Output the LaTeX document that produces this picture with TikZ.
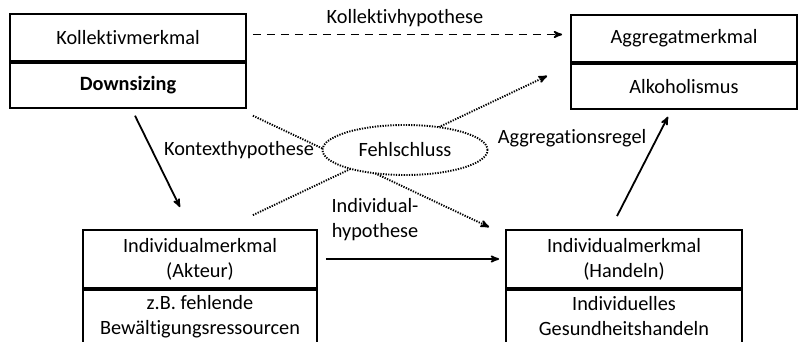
\documentclass[tikz,border=0pt]{standalone}
\usepackage{fontspec}
\setmainfont[Ligatures=NoCommon]{Carlito}
\usetikzlibrary{arrows}
\usetikzlibrary{shapes.geometric}
\usetikzlibrary{positioning}

\begin{document}
\begin{tikzpicture}[x=1pt,y=-1pt,>=stealth',line width=1.8pt,font=\fontsize{20.3}{25}\selectfont]
	\tikzstyle{feld}=[draw, line width=1.8pt, align=center, inner sep=0pt]
	\tikzstyle{punkte}=[line width=1.9pt, dash pattern=on 1.3pt off 1.3pt]
	\tikzstyle{strich}=[dash pattern=on 8pt off 6pt]
	\useasboundingbox (0,0) rectangle (798,342);

	% Kollektivebene
	\node[feld, minimum width=236, minimum height=47] (A1) at (128,37.5) {Kollektivmerkmal};
	\node[feld, minimum width=236, minimum height=45] (A2) [below=0pt of A1] {\bfseries Downsizing};
	\node[feld, minimum width=226, minimum height=47] (B1) at (684,38.5) {Aggregatmerkmal};
	\node[feld, minimum width=226, minimum height=45] (B2) [below=0pt of B1] {Alkoholismus};

	% Individualebene
	\node[feld, minimum width=234, minimum height=58] (C1) at (200,259) {Individualmerkmal\\(Akteur)};
	\node[feld, minimum width=234, minimum height=53] (C2) [below=0pt of C1] {z.B. fehlende\\Bew\"altigungsressourcen};
	\node[feld, minimum width=236, minimum height=58] (D1) at (624,259) {Individualmerkmal\\(Handeln)};
	\node[feld, minimum width=236, minimum height=53] (D2) [below=0pt of D1] {Individuelles\\Gesundheitshandeln};

	% Fehlschluss
	\draw[->, punkte] ([shift={(6,7)}]A2.south east) -- ([shift={(-16,-2)}]D1.north west);
	\draw[->, punkte] ([shift={(-65,-14)}]C1.north east) -- ([shift={(-23,13)}]B2.north west);
	\node[draw, ellipse, punkte, fill=white, minimum width=165, minimum height=50, inner sep=0pt] (F) at (405,150) {Fehlschluss};

	\path
		([yshift=3pt]A1.east) edge [->, strich, shorten <=6pt, shorten >=8pt] ([yshift=4pt]B1.west)
		([shift={(7,7)}]A2.south) edge [->] ([shift={(-20,-22)}]C1.north)
		(C1.east) edge [->, shorten <=8pt, shorten >=6pt] (D1.west)
		([shift={(-7,-13)}]D1.north) edge [->] ([shift={(-16,7)}]B2.south);

	\node (kh) at (405,18) {Kollektivhypothese};
	\node (th) at (239,150) {Kontexthypothese};
	\node (ar) at (572,138) {Aggregationsregel};
	\node[align=center] (ih) at (375,220) {Individual-\\hypothese};
\end{tikzpicture}
\end{document}
